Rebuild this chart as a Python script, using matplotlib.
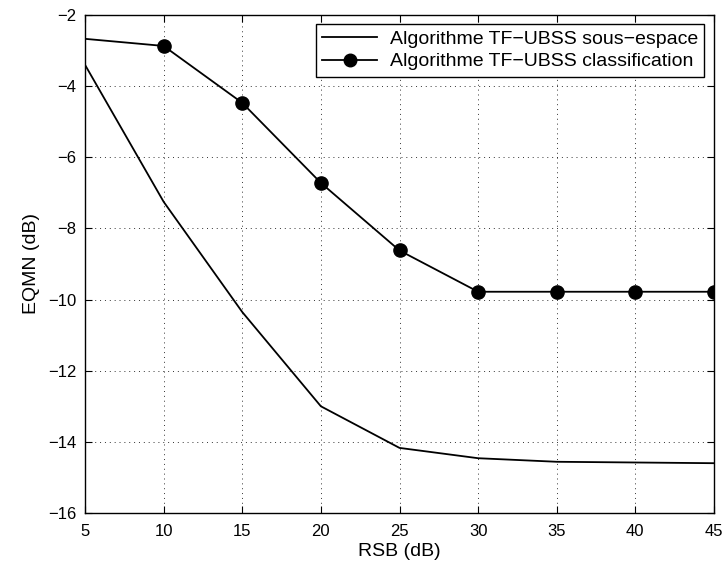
import matplotlib
matplotlib.use("Agg")
import matplotlib.pyplot as plt

# --- Data ---
rsb = [5, 10, 15, 20, 25, 30, 35, 40, 45]
eqmn_sous_espace = [-3.4, -7.25, -10.35, -13.0, -14.17, -14.46, -14.56, -14.58, -14.6]
eqmn_classification = [-2.67, -2.87, -4.47, -6.72, -8.62, -9.78, -9.78, -9.78, -9.78]

xticks = [5, 10, 15, 20, 25, 30, 35, 40, 45]
yticks = [-16, -14, -12, -10, -8, -6, -4, -2]

plt.rcParams['font.family'] = ['Liberation Sans', 'DejaVu Sans']
plt.rcParams['axes.unicode_minus'] = True

fig = plt.figure(figsize=(7.25, 5.71), dpi=100)
ax = fig.add_axes([85 / 725, 1 - 513 / 571, (714 - 85) / 725, (513 - 15) / 571])

ax.plot(rsb, eqmn_sous_espace, color="black", lw=1.3,
        label="Algorithme TF\u2212UBSS sous\u2212espace")
ax.plot(rsb, eqmn_classification, color="black", lw=1.3, marker="o",
        markersize=9.5, markevery=list(range(1, len(rsb))),
        label="Algorithme TF\u2212UBSS classification")

ax.set_xlim(5, 45)
ax.set_ylim(-16, -2)
ax.set_xticks(xticks)
ax.set_yticks(yticks)
ax.tick_params(direction="in", top=True, right=True, labelsize=12, length=5)
ax.tick_params(axis="x", pad=8)
ax.tick_params(axis="y", pad=6)
ax.grid(True, linestyle=(0, (1, 4)), color="black", lw=0.7, alpha=0.8)
for s in ax.spines.values():
    s.set_linewidth(1.0)

ax.set_xlabel("RSB (dB)", fontsize=14, labelpad=3)
ax.set_ylabel("EQMN (dB)", fontsize=14, labelpad=6)

leg = ax.legend(loc="upper right", fontsize=14, fancybox=False, framealpha=1,
                edgecolor="black", bbox_to_anchor=(704 / 725, 1 - 24 / 571),
                bbox_transform=fig.transFigure, borderaxespad=0,
                handlelength=2.8, handletextpad=0.65, labelspacing=0.25,
                borderpad=0.32, markerscale=0.95)
leg.get_frame().set_linewidth(1.0)

fig.savefig("out.png", dpi=100)
